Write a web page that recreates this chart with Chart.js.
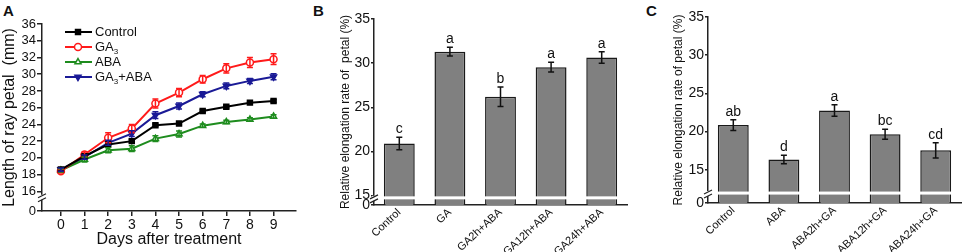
<!DOCTYPE html>
<html>
<head>
<meta charset="utf-8">
<script src="https://cdn.jsdelivr.net/npm/chart.js@4.4.1/dist/chart.umd.min.js"></script>
<style>
body { margin: 0; background: #fff; width: 964px; height: 252px; position: relative; overflow: hidden; }
canvas { position: absolute; top: 0; }
.tag { position: absolute; top: 2px; font: bold 15px Arial, "Liberation Sans", sans-serif; color: #111; }
</style>
</head>
<body>
<div class="tag" style="left:3px">A</div>
<div class="tag" style="left:313px">B</div>
<div class="tag" style="left:646px">C</div>
<canvas id="chartA" width="316" height="252" style="left:0"></canvas>
<canvas id="chartB" width="324" height="252" style="left:316px"></canvas>
<canvas id="chartC" width="324" height="252" style="left:640px"></canvas>
<script>
// Panel A: length of ray petal (mm) by day
var days = [0, 1, 2, 3, 4, 5, 6, 7, 8, 9];
var seriesNames = ['Control', 'GA3', 'ABA', 'GA3+ABA'];
var controlLen = [18.6, 20.2, 21.6, 22.0, 23.9, 24.1, 25.6, 26.1, 26.6, 26.8];
var controlErr = [0.15, 0.15, 0.15, 0.2, 0.15, 0.15, 0.15, 0.15, 0.15, 0.15];
var ga3Len = [18.4, 20.4, 22.4, 23.5, 26.5, 27.8, 29.4, 30.7, 31.4, 31.8];
var ga3Err = [0.2, 0.3, 0.6, 0.5, 0.55, 0.5, 0.45, 0.55, 0.6, 0.65];
var abaLen = [18.5, 19.8, 20.9, 21.1, 22.3, 22.85, 23.85, 24.3, 24.6, 24.95];
var abaErr = [0.2, 0.3, 0.3, 0.35, 0.35, 0.35, 0.2, 0.2, 0.2, 0.2];
var gaAbaLen = [18.6, 20.1, 21.8, 22.9, 25.1, 26.2, 27.6, 28.6, 29.2, 29.7];
var gaAbaErr = [0.2, 0.25, 0.3, 0.35, 0.4, 0.35, 0.3, 0.35, 0.3, 0.35];
var lenTicks = [16, 18, 20, 22, 24, 26, 28, 30, 32, 34, 36];

// Panel B: GA then ABA
var labelsB = ['Control', 'GA', 'GA2h+ABA', 'GA12h+ABA', 'GA24h+ABA'];
var rateB = [20.9, 31.3, 26.2, 29.55, 30.65];
var errB = [0.7, 0.5, 1.1, 0.55, 0.65];
var lettersB = ['c', 'a', 'b', 'a', 'a'];

// Panel C: ABA then GA
var labelsC = ['Control', 'ABA', 'ABA2h+GA', 'ABA12h+GA', 'ABA24h+GA'];
var rateC = [20.85, 16.35, 22.75, 19.65, 17.55];
var errC = [0.7, 0.55, 0.75, 0.65, 1.0];
var lettersC = ['ab', 'd', 'a', 'bc', 'cd'];
var rateTicks = [15, 20, 25, 30, 35];

var FONT = 'Arial, "Liberation Sans", sans-serif';
Chart.defaults.font.family = FONT;
Chart.defaults.color = '#111';
var AXIS = '#222';

var toPoints = function(vals) {
  return days.map(function(d, i) { return { x: d, y: vals[i] }; });
};

// draws "GA3" with a subscript 3
var drawLabel = function(ctx, text, x, y, size) {
  var parts = text.split('GA3');
  ctx.font = size + 'px ' + FONT;
  ctx.textBaseline = 'middle';
  ctx.textAlign = 'left';
  for (var i = 0; i < parts.length; i++) {
    if (i > 0) {
      ctx.font = size + 'px ' + FONT;
      ctx.fillText('GA', x, y);
      x += ctx.measureText('GA').width;
      ctx.font = Math.round(size * 0.62) + 'px ' + FONT;
      ctx.fillText('3', x, y + size * 0.35);
      x += ctx.measureText('3').width;
      ctx.font = size + 'px ' + FONT;
    }
    ctx.fillText(parts[i], x, y);
    x += ctx.measureText(parts[i]).width;
  }
};

//Error bars (and significance letters) from the dataset's errors array
var errorBars = {
  id: 'errorBars',
  afterDatasetsDraw: function(chart, args, opts) {
    var ctx = chart.ctx;
    var yScale = chart.scales.y;
    chart.data.datasets.forEach(function(ds, i) {
      var meta = chart.getDatasetMeta(i);
      meta.data.forEach(function(el, j) {
        var v = ds.data[j];
        var value = (typeof v === 'object') ? v.y : v;
        var e = ds.errors[j];
        var top = yScale.getPixelForValue(value + e);
        var bot = yScale.getPixelForValue(value - e);
        ctx.save();
        ctx.strokeStyle = opts.color || ds.borderColor;
        ctx.lineWidth = 1.5;
        ctx.beginPath();
        ctx.moveTo(el.x, top); ctx.lineTo(el.x, bot);
        ctx.moveTo(el.x - 3, top); ctx.lineTo(el.x + 3, top);
        ctx.moveTo(el.x - 3, bot); ctx.lineTo(el.x + 3, bot);
        ctx.stroke();
        if (ds.letters) {
          ctx.fillStyle = '#111';
          ctx.font = '14px ' + FONT;
          ctx.textAlign = 'center';
          ctx.textBaseline = 'bottom';
          ctx.fillText(ds.letters[j], el.x, top - 1);
        }
        ctx.restore();
      });
    });
  }
};

//Break on the value axis (and a white cut through the bars)
var axisBreak = {
  id: 'axisBreak',
  afterDraw: function(chart, args, opts) {
    var ctx = chart.ctx;
    var y = chart.scales.y.getPixelForValue(opts.value);
    var x = chart.chartArea.left;
    ctx.save();
    ctx.fillStyle = '#fff';
    if (opts.bars) {
      chart.getDatasetMeta(0).data.forEach(function(bar) {
        ctx.fillRect(bar.x - bar.width / 2 - 1, y - 1.5, bar.width + 2, 3);
      });
    }
    ctx.fillRect(x - 2, y - 2, 4, 5);
    ctx.strokeStyle = AXIS;
    ctx.lineWidth = 1.2;
    ctx.beginPath();
    ctx.moveTo(x - 4, y + 1); ctx.lineTo(x + 4, y - 3);
    ctx.moveTo(x - 4, y + 5); ctx.lineTo(x + 4, y + 1);
    ctx.stroke();
    ctx.restore();
  }
};

//Legend drawn inside the plot area
var insideLegend = {
  id: 'insideLegend',
  afterDraw: function(chart) {
    var ctx = chart.ctx;
    var left = chart.chartArea.left;
    chart.data.datasets.forEach(function(ds, i) {
      var y = 32 + i * 15;
      ctx.save();
      ctx.strokeStyle = ds.borderColor;
      ctx.lineWidth = 2;
      ctx.beginPath();
      ctx.moveTo(left + 23, y); ctx.lineTo(left + 50, y);
      ctx.stroke();
      ctx.fillStyle = ds.pointBackgroundColor;
      ctx.lineWidth = 1.5;
      Chart.helpers.drawPoint(ctx, {
        pointStyle: ds.pointStyle, rotation: ds.pointRotation || 0,
        radius: ds.pointRadius, borderWidth: 1.5
      }, left + 36, y);
      ctx.fillStyle = '#111';
      drawLabel(ctx, ds.label, left + 53, y, 13);
      ctx.restore();
    });
  }
};

var breakTicks = function(min, list) {
  return function(scale) {
    scale.ticks = [{ value: min }].concat(list.map(function(v) { return { value: v }; }));
  };
};

var lineSet = function(name, vals, errs, color, style, fill, rot) {
  return {
    label: name, data: toPoints(vals), errors: errs,
    borderColor: color, backgroundColor: color, borderWidth: 2,
    pointStyle: style, pointRadius: 3.5, pointRotation: rot || 0,
    pointBackgroundColor: fill, pointBorderColor: color, pointBorderWidth: 1.5
  };
};

// ---- Panel A
var minA = 13.65;
new Chart(document.getElementById('chartA'), {
  type: 'line',
  data: {
    datasets: [
      lineSet(seriesNames[0], controlLen, controlErr, '#000000', 'rect', '#000000'),
      lineSet(seriesNames[1], ga3Len, ga3Err, '#ff1a1a', 'circle', '#ffffff'),
      lineSet(seriesNames[2], abaLen, abaErr, '#1e8c1e', 'triangle', '#ffffff'),
      lineSet(seriesNames[3], gaAbaLen, gaAbaErr, '#1a1a96', 'triangle', '#1a1a96', 180)
    ]
  },
  options: {
    responsive: false, animation: false, devicePixelRatio: 1,
    layout: { padding: { left: 0, right: 20, top: 24, bottom: 0 } },
    plugins: { legend: { display: false }, tooltip: { enabled: false },
      axisBreak: { value: 15.35 } },
    scales: {
      x: {
        type: 'linear', min: -0.8, max: 9.95,
        afterBuildTicks: function(scale) { scale.ticks = days.map(function(d) { return { value: d }; }); },
        afterFit: function(scale) { scale.height = 41; },
        grid: { drawOnChartArea: false, drawTicks: true, tickLength: 5, color: AXIS, lineWidth: 1.5 },
        border: { display: true, color: AXIS, width: 1.5 },
        ticks: { font: { size: 14 }, padding: 1, maxRotation: 0, autoSkip: false },
        title: { display: true, text: 'Days after treatment', font: { size: 16 }, padding: { top: 0, bottom: 3 } }
      },
      y: {
        min: minA, max: 36,
        afterBuildTicks: breakTicks(minA, lenTicks),
        afterFit: function(scale) { scale.width = 42; },
        grid: { drawOnChartArea: false, drawTicks: true, tickLength: 5, color: AXIS, lineWidth: 1.5 },
        border: { display: true, color: AXIS, width: 1.5 },
        ticks: { font: { size: 13 }, padding: 1, autoSkip: false,
          callback: function(v) { return v === minA ? '0' : v; } },
        title: { display: true, text: 'Length of ray petal  (mm)', font: { size: 16 }, padding: 0 }
      }
    }
  },
  plugins: [errorBars, axisBreak, insideLegend]
});

// ---- Panels B and C
var barChart = function(id, labels, vals, errs, letters, minV, breakV, padLeft, axisW, padTop, padRight, xH) {
  return new Chart(document.getElementById(id), {
    type: 'bar',
    data: {
      labels: labels,
      datasets: [{
        data: vals, errors: errs, letters: letters,
        backgroundColor: '#808080', borderColor: '#1a1a1a', borderWidth: 1.5,
        categoryPercentage: 1, barPercentage: 0.61
      }]
    },
    options: {
      responsive: false, animation: false, devicePixelRatio: 1,
      layout: { padding: { left: padLeft, right: padRight, top: padTop, bottom: 0 } },
      plugins: { legend: { display: false }, tooltip: { enabled: false },
        errorBars: { color: '#111' }, axisBreak: { value: breakV, bars: true } },
      scales: {
        x: {
          afterFit: function(scale) { scale.height = xH; },
          grid: { display: false, drawTicks: false },
          border: { display: true, color: AXIS, width: 1.5 },
          ticks: { font: { size: 11 }, minRotation: 43, maxRotation: 43, padding: 1, autoSkip: false }
        },
        y: {
          min: minV, max: 35,
          afterBuildTicks: breakTicks(minV, rateTicks),
          afterFit: function(scale) { scale.width = axisW; },
          grid: { drawOnChartArea: false, drawTicks: true, tickLength: 3, color: AXIS, lineWidth: 1.5 },
          border: { display: true, color: AXIS, width: 1.5 },
          ticks: { font: { size: 14 }, padding: 1, autoSkip: false,
            callback: function(v) { return v === minV ? '0' : v; } },
          title: { display: true, text: id === 'chartB' ? 'Relative elongation rate of  petal (%)' : 'Relative elongation rate of petal (%)',
            font: { size: 12 }, padding: 0 }
        }
      }
    },
    plugins: [errorBars, axisBreak]
  });
};

barChart('chartB', labelsB, rateB, errB, lettersB, 13.94, 14.75, 22, 36, 19, 13, 47);
barChart('chartC', labelsC, rateC, errC, lettersC, 10.65, 11.95, 31, 37, 17, 3, 49);
</script>
</body>
</html>
